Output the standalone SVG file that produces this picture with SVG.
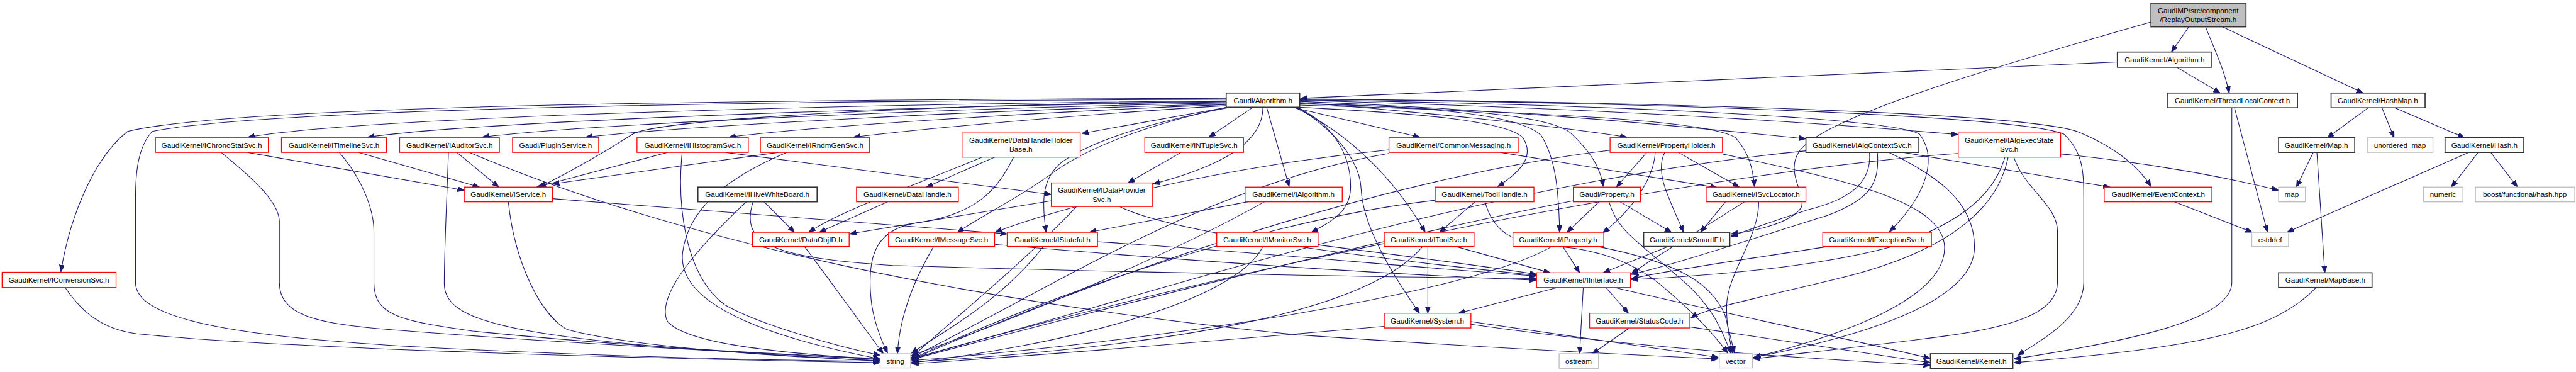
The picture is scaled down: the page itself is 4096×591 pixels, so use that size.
<svg xmlns="http://www.w3.org/2000/svg" width="4096" height="591" viewBox="0 0 4096 591">
<style>
.n rect{fill:#fff;stroke-width:1.6}
.r rect{stroke:#ff0000}
.k rect{stroke:#333;stroke-width:2}
.g rect{stroke:#bfbfbf}
.f rect{fill:#bfbfbf;stroke:#333;stroke-width:2}
text{font-family:"Liberation Sans",Arial,sans-serif;font-size:14px;text-anchor:middle;fill:#000}
#edges path{fill:none;stroke:#191970;stroke-width:1.3;marker-end:url(#ah)}
</style>
<defs>
<marker id="ah" markerUnits="userSpaceOnUse" markerWidth="14" markerHeight="11" refX="13" refY="5" orient="auto">
<path d="M0,0 L13,5 L0,10 z" fill="#191970" stroke="#191970" stroke-width="1"/>
</marker>
</defs>
<rect width="4096" height="591" fill="#fff"/>
<g transform="scale(0.835)">
<g id="edges">
<path d="M2335,187 C1400,190 450,200 243,250 C185,295 135,400 116,517"/>
<path d="M2335,189 C1400,192 500,208 290,250 C262,280 258,330 258,380 L258,537 C258,600 400,640 830,662 C1200,680 1500,686 1675,687"/>
<path d="M2335,192 C1600,198 700,222 472,261"/>
<path d="M2335,194 C1700,202 900,232 700,261"/>
<path d="M2335,196 C1800,205 1100,238 918,261"/>
<path d="M2335,198 C1900,208 1300,240 1115,261"/>
<path d="M2335,199 C2000,212 1550,240 1388,261"/>
<path d="M2335,201 C2100,215 1800,240 1625,261"/>
<path d="M2335,193 C1800,198 1260,225 1205,255 C1150,290 1100,320 1027,356"/>
<path d="M2338,204 L2060,254"/>
<path d="M2386,204 L2302,261"/>
<path d="M2405,204 C2405,270 2330,315 2196,350"/>
<path d="M2412,204 L2455,355"/>
<path d="M2460,204 L2704,261"/>
<path d="M2475,195 C2700,212 2950,238 3098,261"/>
<path d="M2475,193 C2900,210 3200,240 3439,264"/>
<path d="M2475,191 C3000,205 3400,228 3729,256"/>
<path d="M2470,204 C2700,215 2870,230 2900,262 C2925,300 2890,330 2852,355"/>
<path d="M2475,198 C2800,205 2960,222 2993,255 C3030,290 3048,320 3053,355"/>
<path d="M2475,188 C3200,195 3850,215 3955,250 C4030,280 4075,320 4096,355"/>
<path d="M2475,200 C3000,215 3260,232 3305,262 C3330,290 3338,320 3341,355"/>
<path d="M2475,190 C3100,200 3600,225 3655,255 C3690,300 3670,370 3598,441"/>
<path d="M2475,189 C3200,195 3850,222 3930,255 C3968,290 3968,330 3968,380 L3968,537 C3968,600 3900,640 3842,676"/>
<path d="M2340,203 C2150,245 2060,290 2010,325 C1950,370 1880,405 1823,442"/>
<path d="M2345,204 C2150,240 2060,280 2020,310 C1985,340 1983,380 1992,442"/>
<path d="M2470,204 C2545,240 2572,300 2572,355 C2572,400 2540,420 2497,442"/>
<path d="M2465,204 C2560,250 2650,330 2714,442"/>
<path d="M2470,204 C2530,240 2590,300 2592,360 C2595,430 2650,520 2703,596"/>
<path d="M2475,197 C2750,202 2900,222 2935,258 C2962,300 2968,360 2970,442"/>
<path d="M4168,51 L4135,99"/>
<path d="M4200,51 C4215,90 4235,130 4245,177"/>
<path d="M4232,51 L4500,177"/>
<path d="M4096,42 C3750,140 3460,230 3425,290 C3400,330 3440,370 3430,395 C3410,425 3340,440 3296,445"/>
<path d="M4032,118 L2477,187"/>
<path d="M4145,128 L4228,177"/>
<path d="M4255,205 L4318,442"/>
<path d="M4250,205 L4250,537 C4250,610 4050,650 3835,683"/>
<path d="M4510,205 L4432,262"/>
<path d="M4536,205 L4559,262"/>
<path d="M4560,205 L4693,262"/>
<path d="M4405,290 L4373,356"/>
<path d="M4412,290 L4427,519"/>
<path d="M4701,290 L4355,442"/>
<path d="M4719,290 L4668,356"/>
<path d="M4743,290 L4794,356"/>
<path d="M4411,547 C4330,630 4200,660 3835,690"/>
<path d="M4141,384 L4289,442"/>
<path d="M3924,293 C4100,310 4250,340 4339,362"/>
<path d="M3818,299 C3800,360 3750,420 3600,470 C3450,510 3250,525 3107,532"/>
<path d="M3824,299 C3810,370 3750,470 3500,530 C3380,560 3250,585 3220,605"/>
<path d="M3835,299 C3855,360 3918,390 3918,440 L3918,537 C3918,590 3850,620 3700,640 C3550,660 3400,675 3339,683"/>
<path d="M3729,292 C3200,330 2300,520 1736,683"/>
<path d="M3624,290 L4018,356"/>
<path d="M3560,290 C3565,350 3520,380 3440,400 C3380,420 3320,440 3296,450"/>
<path d="M3575,290 C3580,350 3560,380 3480,410 C3350,450 3200,500 3107,522"/>
<path d="M3597,290 C3680,330 3760,380 3760,470 C3760,560 3600,630 3339,680"/>
<path d="M3439,287 C2800,350 2200,560 1736,682"/>
<path d="M3136,290 L3078,356"/>
<path d="M3152,290 C3150,330 3120,390 3052,443"/>
<path d="M3196,290 L3312,356"/>
<path d="M3170,290 C3150,330 3180,380 3206,442"/>
<path d="M3280,293 C3500,340 3700,380 3703,470 C3705,570 3500,640 3340,680"/>
<path d="M3066,286 C2700,330 2200,480 1736,684"/>
<path d="M2645,285 C2300,320 2000,400 1895,442"/>
<path d="M2857,290 L3270,357"/>
<path d="M2645,292 C2300,350 2000,550 1736,680"/>
<path d="M2809,384 L2741,442"/>
<path d="M2828,384 C2840,430 2870,460 2940,468 C3040,470 3110,500 3160,540 C3220,590 3260,630 3290,672"/>
<path d="M2733,381 C2400,420 2000,560 1736,683"/>
<path d="M3045,384 L2984,442"/>
<path d="M3085,384 L3183,442"/>
<path d="M3064,384 C3080,440 3120,460 3200,530 C3260,580 3280,630 3296,672"/>
<path d="M2996,382 C2700,440 2200,560 1736,684"/>
<path d="M3286,384 L3238,442"/>
<path d="M3322,384 C3250,430 3150,490 3107,520"/>
<path d="M3349,384 C3350,450 3290,520 3288,580 C3287,620 3295,650 3299,672"/>
<path d="M3177,469 L3053,519"/>
<path d="M2976,469 L3008,519"/>
<path d="M2955,469 C2800,560 2200,650 1736,686"/>
<path d="M3042,469 C3200,500 3260,540 3285,600 L3303,672"/>
<path d="M2719,469 L2719,596"/>
<path d="M2772,469 L2952,519"/>
<path d="M2709,469 C2600,600 2200,660 1736,689"/>
<path d="M2510,466 C2700,490 2850,510 2926,522"/>
<path d="M2405,469 C2350,580 2000,660 1736,690"/>
<path d="M2090,460 C2400,480 2700,510 2926,525"/>
<path d="M1987,469 C1900,580 1780,640 1736,672"/>
<path d="M1778,469 C1730,550 1712,620 1709,673"/>
<path d="M1894,465 C2300,500 2700,525 2926,533"/>
<path d="M2376,384 L2074,442"/>
<path d="M2408,384 C2200,500 1900,620 1736,676"/>
<path d="M1532,469 C1600,560 1650,630 1682,673"/>
<path d="M1455,384 L1513,442"/>
<path d="M1421,384 C1330,470 1250,560 1270,610 C1300,650 1450,670 1676,684"/>
<path d="M1434,384 C1410,460 1460,490 1700,505 C2200,520 2700,528 2926,530"/>
<path d="M1690,384 L1560,442"/>
<path d="M1894,299 L1764,356"/>
<path d="M1870,299 C1750,350 1600,400 1540,442"/>
<path d="M1930,299 C1900,360 1860,410 1740,425 C1660,440 1650,500 1660,580 C1668,630 1685,660 1690,672"/>
<path d="M2002,382 L1618,445"/>
<path d="M2132,393 C2220,437 2500,480 2926,524"/>
<path d="M2050,393 C1950,500 1800,620 1736,680"/>
<path d="M2249,290 L2148,348"/>
<path d="M1381,290 L2002,370"/>
<path d="M1271,290 L1022,356"/>
<path d="M1299,290 C1290,380 1300,520 1380,580 C1450,620 1600,660 1676,676"/>
<path d="M1482,290 L1052,350"/>
<path d="M1498,290 C1380,340 1310,400 1300,480 C1290,560 1400,630 1676,683"/>
<path d="M870,290 L950,356"/>
<path d="M854,290 C850,400 846,480 846,540 C846,620 1000,650 1676,687"/>
<path d="M894,290 C1200,420 1700,560 2470,637 C2800,660 3100,675 3272,683"/>
<path d="M471,290 L884,362"/>
<path d="M421,290 C470,330 530,380 532,420 L532,537 C532,600 600,615 740,627 C1000,648 1400,670 1676,684"/>
<path d="M683,290 L913,356"/>
<path d="M646,290 C690,340 712,400 712,440 L712,537 C712,600 760,610 900,630 C1200,660 1500,675 1676,682"/>
<path d="M124,547 C160,600 200,627 260,635 C500,660 1100,680 1676,690"/>
<path d="M1052,378 L1918,445"/>
<path d="M968,384 C980,500 1030,600 1080,627 C1200,660 1500,680 1676,686"/>
<path d="M2966,547 L2777,596"/>
<path d="M3058,547 L3101,596"/>
<path d="M3015,547 L3008,673"/>
<path d="M3074,547 C3300,600 3500,640 3676,682"/>
<path d="M3103,624 L3032,673"/>
<path d="M3218,622 C3400,650 3550,670 3676,690"/>
<path d="M2801,617 C3100,660 3400,680 3676,695"/>
<path d="M2801,612 L3272,680"/>
<path d="M2636,621 C2300,650 2000,675 1736,692"/>
<path d="M3481,469 C3350,490 3200,510 3107,530"/>
</g>
<g id="n_replay" class="n f"><rect x="4096" y="6" width="181" height="45"/><text x="4186" y="25">GaudiMP/src/component</text><text x="4186" y="42">/ReplayOutputStream.h</text></g>
<g id="n_gkalg" class="n k"><rect x="4032" y="99" width="180" height="29"/><text x="4122" y="119">GaudiKernel/Algorithm.h</text></g>
<g id="n_alg" class="n k"><rect x="2335" y="177" width="140" height="27"/><text x="2405" y="196">Gaudi/Algorithm.h</text></g>
<g id="n_tlc" class="n k"><rect x="4127" y="177" width="248" height="28"/><text x="4251" y="196">GaudiKernel/ThreadLocalContext.h</text></g>
<g id="n_hashmap" class="n k"><rect x="4439" y="177" width="179" height="28"/><text x="4528" y="196">GaudiKernel/HashMap.h</text></g>
<g id="n_ichrono" class="n r"><rect x="296" y="262" width="215" height="28"/><text x="403" y="281">GaudiKernel/IChronoStatSvc.h</text></g>
<g id="n_itimeline" class="n r"><rect x="536" y="262" width="200" height="28"/><text x="636" y="281">GaudiKernel/ITimelineSvc.h</text></g>
<g id="n_iauditor" class="n r"><rect x="761" y="262" width="190" height="28"/><text x="856" y="281">GaudiKernel/IAuditorSvc.h</text></g>
<g id="n_plugin" class="n r"><rect x="976" y="262" width="164" height="28"/><text x="1058" y="281">Gaudi/PluginService.h</text></g>
<g id="n_ihist" class="n r"><rect x="1213" y="262" width="212" height="28"/><text x="1319" y="281">GaudiKernel/IHistogramSvc.h</text></g>
<g id="n_irndm" class="n r"><rect x="1448" y="262" width="208" height="28"/><text x="1552" y="281">GaudiKernel/IRndmGenSvc.h</text></g>
<g id="n_dhhb" class="n r"><rect x="1832" y="253" width="225" height="46"/><text x="1944" y="272">GaudiKernel/DataHandleHolder</text><text x="1944" y="289">Base.h</text></g>
<g id="n_intuple" class="n r"><rect x="2180" y="262" width="188" height="28"/><text x="2274" y="281">GaudiKernel/INTupleSvc.h</text></g>
<g id="n_commsg" class="n r"><rect x="2645" y="262" width="246" height="28"/><text x="2768" y="281">GaudiKernel/CommonMessaging.h</text></g>
<g id="n_propholder" class="n r"><rect x="3066" y="262" width="214" height="28"/><text x="3173" y="281">GaudiKernel/PropertyHolder.h</text></g>
<g id="n_ialgctx" class="n k"><rect x="3439" y="262" width="215" height="28"/><text x="3546" y="281">GaudiKernel/IAlgContextSvc.h</text></g>
<g id="n_ialgexec" class="n r"><rect x="3729" y="253" width="195" height="46"/><text x="3826" y="272">GaudiKernel/IAlgExecState</text><text x="3826" y="289">Svc.h</text></g>
<g id="n_map_h" class="n k"><rect x="4339" y="262" width="145" height="28"/><text x="4411" y="281">GaudiKernel/Map.h</text></g>
<g id="n_umap" class="n g"><rect x="4508" y="262" width="125" height="28"/><text x="4570" y="281">unordered_map</text></g>
<g id="n_hash" class="n k"><rect x="4656" y="262" width="150" height="28"/><text x="4731" y="281">GaudiKernel/Hash.h</text></g>
<g id="n_iconv" class="n r"><rect x="4" y="518" width="217" height="29"/><text x="112" y="538">GaudiKernel/IConversionSvc.h</text></g>
<g id="n_iservice" class="n r"><rect x="884" y="356" width="168" height="28"/><text x="968" y="375">GaudiKernel/IService.h</text></g>
<g id="n_ihive" class="n k"><rect x="1329" y="356" width="227" height="28"/><text x="1442" y="375">GaudiKernel/IHiveWhiteBoard.h</text></g>
<g id="n_dh" class="n r"><rect x="1631" y="356" width="194" height="28"/><text x="1728" y="375">GaudiKernel/DataHandle.h</text></g>
<g id="n_idps" class="n r"><rect x="2002" y="348" width="193" height="45"/><text x="2098" y="367">GaudiKernel/IDataProvider</text><text x="2098" y="384">Svc.h</text></g>
<g id="n_ialgo" class="n r"><rect x="2371" y="356" width="185" height="28"/><text x="2463" y="375">GaudiKernel/IAlgorithm.h</text></g>
<g id="n_toolh" class="n r"><rect x="2733" y="356" width="188" height="28"/><text x="2827" y="375">GaudiKernel/ToolHandle.h</text></g>
<g id="n_prop" class="n r"><rect x="2996" y="356" width="128" height="28"/><text x="3060" y="375">Gaudi/Property.h</text></g>
<g id="n_isvcloc" class="n r"><rect x="3249" y="356" width="190" height="28"/><text x="3344" y="375">GaudiKernel/ISvcLocator.h</text></g>
<g id="n_evctx" class="n r"><rect x="4007" y="356" width="205" height="28"/><text x="4110" y="375">GaudiKernel/EventContext.h</text></g>
<g id="n_map" class="n g"><rect x="4339" y="356" width="51" height="28"/><text x="4364" y="375">map</text></g>
<g id="n_numeric" class="n g"><rect x="4615" y="356" width="75" height="28"/><text x="4652" y="375">numeric</text></g>
<g id="n_boost" class="n g"><rect x="4714" y="356" width="189" height="28"/><text x="4808" y="375">boost/functional/hash.hpp</text></g>
<g id="n_doid" class="n r"><rect x="1433" y="442" width="184" height="27"/><text x="1525" y="461">GaudiKernel/DataObjID.h</text></g>
<g id="n_imsg" class="n r"><rect x="1692" y="442" width="202" height="27"/><text x="1793" y="461">GaudiKernel/IMessageSvc.h</text></g>
<g id="n_istate" class="n r"><rect x="1918" y="442" width="172" height="27"/><text x="2004" y="461">GaudiKernel/IStateful.h</text></g>
<g id="n_imon" class="n r"><rect x="2317" y="442" width="193" height="27"/><text x="2413" y="461">GaudiKernel/IMonitorSvc.h</text></g>
<g id="n_itool" class="n r"><rect x="2636" y="442" width="171" height="27"/><text x="2721" y="461">GaudiKernel/IToolSvc.h</text></g>
<g id="n_iprop" class="n r"><rect x="2881" y="442" width="173" height="27"/><text x="2967" y="461">GaudiKernel/IProperty.h</text></g>
<g id="n_smartif" class="n k"><rect x="3130" y="442" width="164" height="27"/><text x="3212" y="461">GaudiKernel/SmartIF.h</text></g>
<g id="n_iexc" class="n r"><rect x="3471" y="442" width="207" height="27"/><text x="3574" y="461">GaudiKernel/IExceptionSvc.h</text></g>
<g id="n_cstddef" class="n g"><rect x="4288" y="442" width="70" height="27"/><text x="4323" y="461">cstddef</text></g>
<g id="n_iint" class="n r"><rect x="2926" y="519" width="179" height="28"/><text x="3015" y="538">GaudiKernel/IInterface.h</text></g>
<g id="n_mapbase" class="n k"><rect x="4339" y="519" width="178" height="28"/><text x="4428" y="538">GaudiKernel/MapBase.h</text></g>
<g id="n_system" class="n r"><rect x="2636" y="596" width="165" height="28"/><text x="2718" y="615">GaudiKernel/System.h</text></g>
<g id="n_status" class="n r"><rect x="3027" y="596" width="191" height="28"/><text x="3122" y="615">GaudiKernel/StatusCode.h</text></g>
<g id="n_string" class="n g"><rect x="1676" y="673" width="58" height="27"/><text x="1705" y="692">string</text></g>
<g id="n_ostream" class="n g"><rect x="2969" y="673" width="75" height="28"/><text x="3006" y="692">ostream</text></g>
<g id="n_vector" class="n g"><rect x="3274" y="673" width="63" height="27"/><text x="3305" y="692">vector</text></g>
<g id="n_kernel" class="n k"><rect x="3676" y="673" width="157" height="28"/><text x="3754" y="692">GaudiKernel/Kernel.h</text></g>
</g>
</svg>
